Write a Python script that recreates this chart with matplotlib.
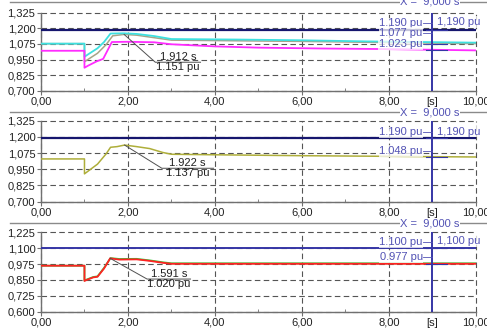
import matplotlib
matplotlib.use("Agg")
import matplotlib.pyplot as plt
from matplotlib.transforms import blended_transform_factory

plt.rcParams['font.family'] = ['Liberation Sans', 'DejaVu Sans']
plt.rcParams['font.size'] = 8

# ---- data ----
t_limit = [1.190]                      # panel 1/2 limit line
t_limit3 = [1.100]                     # panel 3 limit line

# panel 1 series (time [s], value [pu])
cyan_t = [0, 1.0, 1.0, 1.1, 1.3, 1.45, 1.6, 1.9, 2.2, 2.6, 3.0, 4.5, 6.0, 7.5, 10.0]
cyan_v = [1.077, 1.077, 0.972, 0.995, 1.04, 1.09, 1.158, 1.160, 1.155, 1.138, 1.114, 1.110, 1.104, 1.095, 1.085]
tan_t = [0, 1.0, 1.0, 1.1, 1.3, 1.5, 1.65, 1.912, 2.2, 2.6, 3.0, 4.5, 6.0, 7.5, 10.0]
tan_v = [1.077, 1.077, 0.932, 0.955, 1.00, 1.07, 1.140, 1.151, 1.145, 1.125, 1.105, 1.100, 1.095, 1.088, 1.077]
mag_t = [0, 1.0, 1.0, 1.08, 1.28, 1.43, 1.63, 2.0, 2.6, 3.0, 4.0, 5.0, 6.5, 7.8, 10.0]
mag_v = [1.020, 1.020, 0.884, 0.900, 0.935, 0.955, 1.090, 1.092, 1.088, 1.072, 1.055, 1.045, 1.038, 1.034, 1.023]

# panel 2 series
olv_t = [0, 1.0, 1.0, 1.1, 1.3, 1.5, 1.6, 1.75, 1.922, 2.2, 2.5, 2.8, 3.0, 4.0, 6.0, 8.0, 10.0]
olv_v = [1.030, 1.030, 0.915, 0.940, 0.990, 1.070, 1.120, 1.125, 1.137, 1.125, 1.110, 1.080, 1.066, 1.062, 1.055, 1.050, 1.045]

# panel 3 series
red_t = [0, 1.0, 1.0, 1.05, 1.2, 1.3, 1.45, 1.591, 1.8, 2.2, 2.5, 2.8, 3.0, 10.0]
red_v = [0.962, 0.962, 0.842, 0.850, 0.870, 0.875, 0.940, 1.020, 1.010, 1.012, 1.000, 0.985, 0.977, 0.977]
grn_t = [0, 1.0, 1.0, 1.05, 1.2, 1.3, 1.45, 1.6, 1.8, 2.2, 2.5, 2.8, 3.0, 10.0]
grn_v = [0.962, 0.962, 0.845, 0.853, 0.873, 0.878, 0.945, 1.022, 1.015, 1.016, 1.004, 0.989, 0.981, 0.981]

x_ticks = [0, 2, 4, 6, 8, 10]
x_labels = ['0,00', '2,00', '4,00', '6,00', '8,00', '10,00']
y_ticks_12 = [0.700, 0.825, 0.950, 1.075, 1.200, 1.325]
y_ticks_3 = [0.600, 0.725, 0.850, 0.975, 1.100, 1.225]
cursor_t = 9.0

NAVY = '#16166e'
BLUE3 = '#3636a6'
LBL = '#5252b4'
GRID = '#555555'

W, H = 487, 328
fig = plt.figure(figsize=(W / 100, H / 100), dpi=100)


def px_axes(left, top, right, bottom):
    return fig.add_axes([left / W, 1 - bottom / H, (right - left) / W, (bottom - top) / H])


def style(ax, yticks):
    ax.set_xlim(0, 10)
    ax.set_ylim(yticks[0], yticks[-1])
    ax.set_xticks(x_ticks)
    ax.set_xticklabels(x_labels)
    ax.set_xticks([1, 3, 5, 7, 9], minor=True)
    ax.set_yticks(yticks)
    ax.set_yticklabels([f"{v:.3f}".replace('.', ',') for v in yticks])
    for s in ['top', 'right']:
        ax.spines[s].set_visible(False)
    for s in ['left', 'bottom']:
        ax.spines[s].set_color('#707070')
        ax.spines[s].set_linewidth(1.0)
    ax.tick_params(axis='both', which='major', length=3, width=0.8, color='#707070',
                   pad=1, labelsize=8, labelcolor='#222222')
    ax.tick_params(axis='x', which='minor', direction='in', length=2, color='#707070')
    ax.grid(True, which='major', color=GRID, linestyle=(0, (5, 3)), linewidth=0.8)
    for gl in ax.get_xgridlines() + ax.get_ygridlines():
        gl.set_clip_on(False)
    ax.set_axisbelow(True)
    trans = blended_transform_factory(ax.transData, ax.transAxes)
    ax.text(cursor_t, -0.075, '[s]', transform=trans, ha='center', va='top',
            fontsize=8, color='#222222')
    ax.axvline(cursor_t, color=BLUE3, lw=1.4, zorder=6)


def note(ax, x, y, x1, y1, x2, top, bottom):
    ax.plot([x, x1, x2], [y, y1, y1], color='#505050', lw=0.7, zorder=7)
    xm = (x1 + x2) / 2
    ax.text(xm, y1, top, ha='center', va='bottom', fontsize=8, color='#222222', zorder=7)
    ax.text(xm, y1, bottom, ha='center', va='top', fontsize=8, color='#222222', zorder=7)


def cursor_labels(ax, left_items, right_item):
    box = dict(facecolor='white', edgecolor='none', alpha=0.75, pad=0.6)
    for txt, ypos, yval in left_items:
        ax.text(8.78, ypos, txt, ha='right', va='center', color=LBL, fontsize=8,
                bbox=box, zorder=8)
        ax.plot([8.78, 9.0], [ypos, ypos], color=LBL, lw=0.6, zorder=8)
        ax.plot([8.85, 9.35], [yval, yval], color=BLUE3, lw=0.8, zorder=8)
    txt, ypos = right_item
    ax.text(9.1, ypos, txt, ha='left', va='center', color=LBL, fontsize=8,
            bbox=box, zorder=8)


def header(y_px):
    fig.add_artist(plt.Line2D([10 / W, 1], [1 - y_px / H] * 2, color='#8a8a8a', lw=1.0))
    fig.text(430 / W, 1 - y_px / H, 'X =  9,000 s', ha='center', va='center', color=LBL,
             fontsize=8, bbox=dict(facecolor='white', edgecolor='none', pad=0.3))


# panel 1
ax1 = px_axes(41, 12.7, 475.7, 90.7)
style(ax1, y_ticks_12)
ax1.plot([0, 10], t_limit * 2, color=NAVY, lw=1.6, zorder=3)
ax1.plot(tan_t, tan_v, color='#a8a488', lw=1.1, zorder=3)
ax1.plot(cyan_t, cyan_v, color='#3ee0e0', lw=1.3, zorder=4)
ax1.plot(mag_t, mag_v, color='#ff2cff', lw=1.3, zorder=4)
note(ax1, 1.912, 1.151, 2.63, 0.928, 3.67, '1.912 s', '1.151 pu')
cursor_labels(ax1, [('1.190 pu', 1.240, 1.190), ('1.077 pu', 1.165, 1.077),
                    ('1.023 pu', 1.074, 1.023)], ('1,190 pu', 1.250))

# panel 2
ax2 = px_axes(41, 120.7, 475.7, 201.7)
style(ax2, y_ticks_12)
ax2.plot([0, 10], t_limit * 2, color=NAVY, lw=1.6, zorder=3)
ax2.plot(olv_t, olv_v, color='#aeae3a', lw=1.1, zorder=4)
note(ax2, 1.922, 1.137, 2.78, 0.958, 3.97, '1.922 s', '1.137 pu')
cursor_labels(ax2, [('1.190 pu', 1.235, 1.190), ('1.048 pu', 1.091, 1.048)],
              ('1,190 pu', 1.240))

# panel 3
ax3 = px_axes(41, 232.3, 475.7, 311.7)
style(ax3, y_ticks_3)
ax3.plot([0, 10], t_limit3 * 2, color=BLUE3, lw=1.4, zorder=3)
ax3.plot(grn_t, grn_v, color='#3cc43c', lw=1.3, zorder=3)
ax3.plot(red_t, red_v, color='#ff2222', lw=1.3, zorder=4)
note(ax3, 1.591, 1.020, 2.44, 0.857, 3.44, '1.591 s', '1.020 pu')
cursor_labels(ax3, [('1.100 pu', 1.146, 1.100), ('0.977 pu', 1.028, 0.977)],
              ('1,100 pu', 1.157))

header(1.5)
header(112)
header(223)

fig.savefig('out.png', dpi=100)
